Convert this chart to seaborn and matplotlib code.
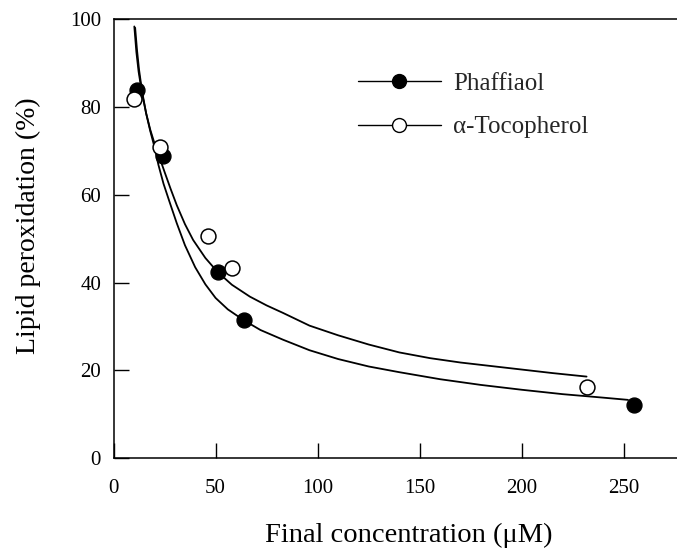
import matplotlib
matplotlib.use("Agg")
import matplotlib.pyplot as plt
from matplotlib.lines import Line2D
import seaborn as sns

# measured data points
phaff_x = [11.4, 24.4, 51.0, 63.9, 255.0]
phaff_y = [83.9, 68.9, 42.3, 31.5, 12.2]
toco_x = [10.1, 22.8, 46.1, 57.9, 232.0]
toco_y = [81.8, 70.8, 50.7, 43.3, 16.3]

# fitted curves
phaff_curve_x = [10.6, 11.5, 12.5, 14, 16, 18, 20, 22, 24.5, 27.5, 31, 35, 40, 45,
                 50, 56, 63.9, 72, 83, 96, 110, 125, 140, 160, 180, 200, 220, 240, 252]
phaff_curve_y = [98, 93, 88.5, 83.5, 78.5, 74.5, 71.0, 66.8, 62.5, 58.3, 53.5, 48.5,
                 43.5, 39.6, 36.5, 33.9, 31.4, 29.2, 27.0, 24.6, 22.6, 20.9, 19.6,
                 18.0, 16.7, 15.6, 14.6, 13.8, 13.3]
toco_curve_x = [10.2, 11.2, 12.3, 14, 16, 18, 20, 22, 25, 28, 31, 35, 39, 45, 51, 58,
                66.8, 75, 83, 96, 110, 125, 140, 155, 170, 185, 200, 215, 231.7]
toco_curve_y = [98.3, 92.5, 88, 83, 78.5, 74.8, 71.8, 69.2, 65.2, 61.3, 57.6, 53.3,
                49.7, 45.6, 42.4, 39.5, 36.8, 34.8, 33.1, 30.2, 28.0, 25.9, 24.1,
                22.8, 21.8, 21.0, 20.2, 19.4, 18.6]

x_ticks = [0, 50, 100, 150, 200, 250]
y_ticks = [0, 20, 40, 60, 80, 100]
legend_labels = ["Phaffiaol", "\u03b1-Tocopherol"]

sns.set_theme(style="white")
plt.rcParams["font.family"] = ["Liberation Serif", "DejaVu Serif"]

fig = plt.figure(figsize=(6.77, 5.52), dpi=100)
ax = fig.add_axes([113.5 / 677, (552 - 458.3) / 552, (677 - 113.5) / 677, (458.3 - 19) / 552])

sns.lineplot(x=phaff_curve_x, y=phaff_curve_y, sort=False, estimator=None,
             color="black", lw=1.3, ax=ax)
sns.lineplot(x=toco_curve_x, y=toco_curve_y, sort=False, estimator=None,
             color="black", lw=1.3, ax=ax)
sns.scatterplot(x=phaff_x, y=phaff_y, color="black", edgecolor="black",
                s=115, linewidth=1.0, ax=ax, zorder=5)
sns.scatterplot(x=toco_x, y=toco_y, color="white", edgecolor="black",
                s=115, linewidth=1.1, ax=ax, zorder=5)

ax.set_xlim(0, 276)
ax.set_ylim(0, 100)
ax.set_xticks(x_ticks)
ax.set_yticks(y_ticks)
ax.set_xticklabels([str(v) for v in x_ticks])
ax.set_yticklabels([str(v) for v in y_ticks])
ax.tick_params(axis="both", direction="in", length=10.5, width=1.0,
               labelsize=15, colors="black", bottom=True, left=True,
               top=False, right=False)
ax.tick_params(axis="x", pad=15)
ax.tick_params(axis="y", pad=9)

for s in ["left", "bottom", "top"]:
    ax.spines[s].set_color("black")
    ax.spines[s].set_linewidth(1.1)
ax.spines["right"].set_visible(False)

ax.set_xlabel("Final concentration (\u03bcM)", fontsize=20.5, color="black")
ax.set_ylabel("Lipid peroxidation (%)", fontsize=20, color="black")
ax.xaxis.set_label_coords(0.524, -0.147)
ax.yaxis.set_label_coords(-0.128, 0.53)

handles = [
    Line2D([], [], color="black", lw=1.0, marker="o", markersize=10,
           markerfacecolor="black", markeredgecolor="black"),
    Line2D([], [], color="black", lw=1.0, marker="o", markersize=10,
           markerfacecolor="white", markeredgecolor="black"),
]
leg = ax.legend(handles, legend_labels, loc="upper left",
                bbox_to_anchor=(358 / 677, 1 - 72 / 552),
                bbox_transform=fig.transFigure, frameon=False,
                fontsize=18, handlelength=3.3, handletextpad=0.5,
                labelspacing=0.85, borderpad=0, borderaxespad=0)

fig.savefig("out.png", dpi=100)
